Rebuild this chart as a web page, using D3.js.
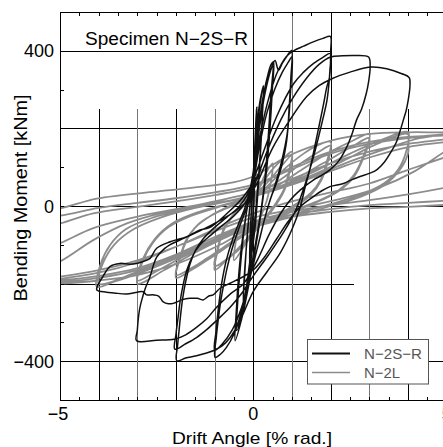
<!DOCTYPE html>
<html>
<head>
<meta charset="utf-8">
<script src="https://d3js.org/d3.v7.min.js"></script>
<style>
  body { margin: 0; background: #fff; }
  svg { display: block; }
</style>
</head>
<body>
<svg id="chart" width="443" height="447"></svg>
<script>
// ---- data ([drift % rad., moment kNm]) ------------------------------------
const driftDomain = [-5, 5];
const momentDomain = [-500, 500];
const xLabels = [-5, 0, 5];
const yLabels = [400, 0, -400];
const seriesNames = ['N\u22122S\u2212R', 'N\u22122L'];
const specimenTitle = 'Specimen N\u22122S\u2212R';

// reference lines: [moment, drift from, drift to]
const hGridLines = [[400, -5, 2], [200, -5, 5], [0, -5, 5],
  [-200, -5, 2.6], [-400, -5, 5]];
// reference lines: [drift, moment from, moment to]
const vGridLines = [[-4, -500, 250], [-3, -500, 250], [-2, -500, 250],
  [-1, -500, 250], [0, -500, 500], [1, -500, 500], [2, -500, 500],
  [3, -500, 250], [4, -500, 250]];

// specimen N-2S-R, whole loading history
const n2srCurve = [
  [0, 0], [0.03, 100], [0.06, 190], [0.09, 255], [0.07, 180], [0.04, 80],
  [0, -20], [-0.05, -90], [-0.1, -150], [-0.08, -80], [-0.05, -10],
  [-0.01, 60], [0.04, 160], [0.08, 250], [0.06, 170], [0.03, 80],
  [-0.01, -20], [-0.06, -100], [-0.1, -145], [-0.08, -70], [-0.04, 10],
  [0, 80], [0.06, 170], [0.14, 250], [0.2, 285], [0.26, 310], [0.23, 230],
  [0.18, 130], [0.12, 40], [0.05, -50], [-0.05, -130], [-0.15, -200],
  [-0.26, -250], [-0.22, -170], [-0.17, -90], [-0.1, -10], [-0.02, 70],
  [0.08, 170], [0.17, 260], [0.26, 305], [0.22, 210], [0.16, 110],
  [0.09, 20], [0, -70], [-0.1, -150], [-0.2, -220], [-0.26, -245],
  [-0.22, -160], [-0.15, -70], [-0.08, 10],
  [0.02, 90], [0.12, 190], [0.25, 280], [0.38, 340], [0.46, 365],
  [0.52, 372], [0.49, 300], [0.43, 200], [0.35, 100], [0.25, 20],
  [0.12, -70], [-0.02, -150], [-0.15, -220], [-0.3, -290], [-0.47, -347],
  [-0.44, -270], [-0.38, -180], [-0.3, -100], [-0.2, -30], [-0.08, 40],
  [0.05, 120], [0.2, 230], [0.35, 320], [0.5, 360],
  [0.45, 280], [0.38, 170], [0.3, 70], [0.2, -10], [0.05, -100],
  [-0.1, -180], [-0.25, -260], [-0.43, -321], [-0.4, -240], [-0.33, -150],
  [-0.25, -70], [-0.14, 10], [0, 90], [0.15, 200], [0.3, 290], [0.45, 350],
  [0.56, 375], [0.65, 350], [0.75, 368], [0.88, 388], [0.99, 401],
  [0.97, 330], [0.93, 260], [0.88, 190], [0.78, 136], [0.68, 95],
  [0.6, 67], [0.5, 35], [0.43, 15], [0.3, -30], [0.15, -90], [0, -150],
  [-0.15, -210], [-0.3, -270], [-0.5, -330], [-0.7, -365], [-0.85, -382],
  [-0.99, -390],
  [-0.96, -340], [-0.91, -295], [-0.85, -250], [-0.78, -210], [-0.68, -160],
  [-0.55, -110], [-0.4, -65], [-0.25, -25], [-0.12, 10], [0, 60],
  [0.15, 150], [0.35, 240], [0.55, 300], [0.75, 345], [0.9, 370], [1, 385],
  [0.97, 310], [0.92, 230], [0.85, 160], [0.75, 110], [0.6, 60], [0.45, 20],
  [0.3, -30], [0.1, -110], [-0.1, -190], [-0.3, -260], [-0.55, -320],
  [-0.8, -355], [-1, -372],
  [-0.96, -320], [-0.9, -260], [-0.82, -200], [-0.7, -140], [-0.55, -90],
  [-0.38, -45], [-0.2, 0], [-0.05, 60], [0.15, 170], [0.35, 260],
  [0.6, 340], [0.85, 385], [1.04, 400], [1.3, 412], [1.55, 423],
  [1.8, 432], [1.99, 437],
  [2, 400], [1.97, 332], [1.9, 307], [1.82, 265], [1.73, 221], [1.64, 178],
  [1.55, 135], [1.45, 90], [1.34, 49], [1.21, -3], [1, -60], [0.7, -120],
  [0.35, -170], [0, -220], [-0.34, -295], [-0.6, -339], [-0.8, -360],
  [-1.04, -373], [-1.47, -386], [-1.75, -392], [-1.98, -399],
  [-1.96, -360], [-1.93, -330], [-1.88, -280], [-1.83, -240], [-1.75, -195],
  [-1.64, -150], [-1.5, -115], [-1.3, -85], [-1, -55], [-0.7, -30],
  [-0.4, -5], [-0.15, 30], [0.05, 80], [0.3, 150], [0.6, 230], [1.04, 315],
  [1.3, 345], [1.55, 367], [1.8, 383], [1.99, 393],
  [1.98, 350], [1.95, 310], [1.9, 270], [1.8, 225], [1.68, 175],
  [1.55, 125], [1.4, 75], [1.25, 30], [1.1, -10], [0.8, -65], [0.4, -125],
  [0, -180], [-0.3, -225], [-0.6, -261], [-0.95, -295], [-1.2, -318],
  [-1.47, -339], [-1.75, -355], [-2.03, -369],
  [-2, -330], [-1.95, -290], [-1.9, -250], [-1.82, -205], [-1.72, -165],
  [-1.55, -125], [-1.38, -100], [-1.1, -75], [-0.8, -50], [-0.5, -25],
  [-0.2, 10], [0.05, 60], [0.35, 140], [0.7, 220], [1, 275], [1.38, 330],
  [1.7, 365], [2, 384], [2.3, 387], [2.6, 388], [2.98, 384],
  [3.02, 358], [2.98, 320], [2.92, 290], [2.8, 250], [2.67, 222],
  [2.55, 185], [2.42, 153], [2.2, 115], [1.98, 93], [1.75, 78], [1.55, 67],
  [1.21, 41], [0.95, 15], [0.7, -20], [0.4, -75], [0.1, -140],
  [-0.26, -201], [-0.6, -227], [-0.95, -261], [-1.2, -290], [-1.47, -313],
  [-1.75, -332], [-2.03, -343], [-2.5, -346], [-3.02, -347],
  [-3, -320], [-2.98, -295], [-2.94, -265], [-2.89, -244], [-2.8, -214],
  [-2.68, -184], [-2.5, -132], [-2.3, -110], [-2.16, -100], [-1.9, -88],
  [-1.55, -72], [-1.2, -55], [-0.86, -37], [-0.5, -15], [-0.2, 10],
  [0.1, 60], [0.5, 150], [0.9, 215], [1.38, 282], [1.7, 310], [2.03, 328],
  [2.5, 345], [3.02, 358], [3.45, 354], [3.84, 341], [4.03, 331],
  [4.05, 310], [4, 270], [3.95, 245], [3.88, 222], [3.8, 195], [3.7, 165],
  [3.54, 136], [3.38, 112], [3.19, 93], [3, 84], [2.76, 76], [2.55, 68],
  [2.33, 58], [1.98, 50], [1.75, 38], [1.55, 24], [1.21, -2], [0.9, -40],
  [0.6, -85], [0.3, -130], [0, -165], [-0.26, -182], [-0.6, -199],
  [-0.86, -212], [-1.04, -229], [-1.15, -232], [-1.3, -242], [-1.45, -238],
  [-1.64, -238], [-1.85, -242], [-2.07, -251], [-2.2, -252], [-2.33, -247],
  [-2.45, -232], [-2.6, -229], [-2.76, -229], [-2.85, -221], [-3, -222],
  [-3.28, -227], [-3.6, -224], [-3.8, -222], [-4.05, -216],
  [-4, -200], [-3.88, -180], [-3.71, -156], [-3.45, -148], [-3.2, -150],
  [-3.02, -148], [-2.8, -141], [-2.67, -135], [-2.5, -109], [-2.15, -92],
  [-1.72, -79], [-1.38, -62], [-1.12, -55], [-0.69, -20], [-0.34, 14],
  [0, 60], [0.2, 95],
];

// specimen N-2L, whole loading history (large cycles run past the frame)
const n2lCurve = [
  [0, 0], [0.15, 45], [0.3, 80], [0.5, 110], [0.45, 60], [0.35, 15],
  [0.2, -25], [0, -65], [-0.25, -105], [-0.5, -140], [-0.45, -90],
  [-0.35, -45], [-0.2, -10], [0, 25], [0.2, 55], [0.5, 95], [0.75, 120],
  [1, 140],
  [0.92, 90], [0.8, 45], [0.6, 10], [0.3, -30], [0, -65], [-0.4, -110],
  [-0.7, -140], [-1, -165], [-0.92, -115], [-0.8, -70], [-0.6, -35],
  [-0.3, -5], [0, 25], [0.4, 65], [0.7, 100], [1, 130],
  [0.92, 80], [0.8, 40], [0.6, 5], [0.3, -35], [0, -70], [-0.4, -115],
  [-0.7, -138], [-1, -155], [-0.9, -100], [-0.75, -55], [-0.5, -20],
  [-0.2, 8], [0.3, 45], [0.8, 95], [1.3, 135], [1.7, 158], [2, 165],
  [1.9, 115], [1.75, 70], [1.5, 35], [1.1, 5], [0.6, -25], [0, -60],
  [-0.6, -100], [-1.2, -140], [-1.6, -165], [-2, -185],
  [-1.9, -135], [-1.75, -90], [-1.5, -55], [-1.1, -25], [-0.5, 5],
  [0.2, 35], [0.8, 75], [1.3, 115], [1.7, 140], [2, 155],
  [1.9, 105], [1.75, 65], [1.5, 30], [1.1, 0], [0.5, -30], [0, -55],
  [-0.6, -95], [-1.2, -135], [-1.6, -160], [-2, -178],
  [-1.85, -120], [-1.65, -75], [-1.4, -45], [-0.9, -15], [-0.3, 10],
  [0.5, 45], [1.2, 90], [1.9, 135], [2.5, 165], [3, 185],
  [2.85, 130], [2.6, 80], [2.2, 40], [1.6, 10], [0.8, -20], [0, -50],
  [-0.8, -85], [-1.6, -125], [-2.3, -165], [-3, -200],
  [-2.85, -140], [-2.6, -95], [-2.2, -55], [-1.6, -25], [-0.8, 0], [0, 25],
  [0.9, 60], [1.8, 110], [2.5, 150], [3, 175],
  [2.85, 125], [2.6, 75], [2.2, 38], [1.6, 8], [0.8, -22], [0, -48],
  [-0.9, -88], [-1.8, -130], [-2.5, -168], [-3, -192],
  [-2.85, -135], [-2.55, -85], [-2.1, -45], [-1.4, -15], [-0.5, 10],
  [0.5, 40], [1.5, 85], [2.5, 135], [3.3, 170], [4, 191],
  [4.01, 165], [4, 136], [3.8, 95], [3.4, 55], [2.8, 25], [2, 0],
  [1, -28], [0, -55], [-1, -90], [-2, -135], [-3, -175], [-3.6, -195],
  [-4.05, -208],
  [-3.95, -150], [-3.7, -100], [-3.3, -60], [-2.6, -30], [-1.8, -10],
  [-0.8, 10], [0.3, 35], [1.3, 70], [2.3, 115], [3.2, 160], [4, 185],
  [3.95, 140], [3.75, 95], [3.4, 60], [2.8, 30], [2, 5], [1, -22], [0, -50],
  [-1, -88], [-2, -130], [-3, -170], [-4, -200],
  [-3.9, -150], [-3.6, -100], [-3.1, -60], [-2.4, -30], [-1.5, -5],
  [-0.5, 15], [0.5, 40], [1.5, 75], [2.5, 115], [3.5, 150], [4.3, 175],
  [5, 185], [5.5, 192], [6, 195],
  [5.7, 175], [5.3, 158], [5, 143], [4.14, 88], [3.27, 48], [2.41, 22],
  [1.3, -3], [0, -30], [-1, -65], [-2, -105], [-3, -140], [-4, -165],
  [-5, -182], [-6, -195], [-6.3, -198],
  [-6.1, -180], [-5.6, -165], [-5, -143], [-4.14, -88], [-3.27, -45],
  [-2.41, -19], [-1.3, 3], [0, 25], [1, 55], [2, 90], [3, 125], [4, 152],
  [5, 165], [6, 180], [6.5, 190],
  [6.3, 170], [5.6, 145], [5, 127], [4, 93], [3, 58], [2, 35], [1, 12],
  [0, -19], [-1, -60], [-2, -105], [-3, -145], [-4, -172], [-5, -188],
  [-6, -198], [-6.6, -200],
  [-6.4, -170], [-5.8, -125], [-5, -96], [-4.14, -57], [-3.02, -28],
  [-2, -8], [-1, 12], [0, 35], [1, 70], [2, 110], [3, 140], [4, 160],
  [5, 172], [6, 185], [7, 195],
  [6.8, 120], [6.3, 75], [5, 48], [4, 30], [3, 15], [2, 2], [1, -15],
  [0, -40], [-1, -80], [-2, -125], [-3, -160], [-4, -180], [-5, -192],
  [-6, -198], [-7, -202],
  [-6.8, -120], [-6.2, -70], [-5, -45], [-4.14, -19], [-3, -2], [-2, 12],
  [-1, 28], [0, 50], [1, 100], [2, 140], [3, 165], [4, 178], [5, 182],
  [6, 190], [7.5, 198],
  [7.3, 100], [6.8, 35], [6, 20], [5, 14], [4, 8], [3, 2], [2, -8],
  [1, -22], [0, -45], [-1, -85], [-2, -130], [-3, -165], [-4, -185],
  [-5, -196], [-6, -200], [-7.5, -205],
  [-7.3, -100], [-6.8, -30], [-6, -15], [-5, -6], [-4.05, 19], [-2.24, 40],
  [-0.52, 61], [0, 76], [0.86, 127], [2.03, 169], [3.02, 186], [4.02, 190],
  [5, 190], [6, 194], [8, 198],
  [7.8, 100], [7.2, 25], [6, 8], [5, 3], [4, -2], [3, -6], [2, -15],
  [1, -28], [0, -53], [-0.86, -100], [-2, -150], [-3, -178], [-4, -192],
  [-5, -200], [-6, -203], [-8, -205],
  [-7.8, -110], [-7.2, -50], [-6, -35], [-5, -25], [-4, -5], [-3, 8],
  [-2, 20], [-1, 35], [0, 55], [1, 95], [2, 135], [3, 160], [4, 175],
  [5, 185], [6, 190],
];

/**
 * Draw the moment - drift hysteresis chart.
 * @param {*} elem The svg element that houses the chart
 */
function createViz(elem) {
  const svg = d3.select(elem);
  const font = '\'Liberation Sans\', Arial, Helvetica, sans-serif';

  // plot frame runs a little past the right edge of the picture
  const left = 60;
  const right = 446.7;
  const top = 12;
  const bottom = 400;

  const x = d3.scaleLinear().domain(driftDomain).range([left, right]);
  const y = d3.scaleLinear().domain(momentDomain).range([bottom, top]);
  const crisp = (v) => Math.round(v) + 0.5;

  svg.append('rect')
      .attr('width', 443)
      .attr('height', 447)
      .attr('fill', '#fff');

  svg.append('clipPath')
      .attr('id', 'plot-clip')
      .append('rect')
      .attr('x', left)
      .attr('y', top)
      .attr('width', right - left)
      .attr('height', bottom - top);

  // reference lines --------
  const grid = svg.append('g')
      .attr('stroke-width', 1)
      .attr('shape-rendering', 'crispEdges');
  grid.selectAll('line.h')
      .data(hGridLines)
      .join('line')
      .attr('class', 'h')
      .attr('x1', (d) => x(d[1]))
      .attr('x2', (d) => x(d[2]))
      .attr('y1', (d) => crisp(y(d[0])))
      .attr('y2', (d) => crisp(y(d[0])))
      .attr('stroke', '#000');
  grid.selectAll('line.v')
      .data(vGridLines)
      .join('line')
      .attr('class', 'v')
      .attr('x1', (d) => crisp(x(d[0])))
      .attr('x2', (d) => crisp(x(d[0])))
      .attr('y1', (d) => y(d[1]))
      .attr('y2', (d) => y(d[2]))
      // the even drift lines are black, the others grey
      .attr('stroke', (d) => d[0] % 2 === 0 ? '#000' : '#777');

  // curves --------
  const line = d3.line()
      .x((d) => x(d[0]))
      .y((d) => y(d[1]))
      .curve(d3.curveCatmullRom.alpha(0.5));

  const curves = svg.append('g')
      .attr('clip-path', 'url(#plot-clip)')
      .attr('fill', 'none')
      .attr('stroke-linejoin', 'round');
  curves.append('path')
      .attr('d', line(n2lCurve))
      .attr('stroke', '#8c8c8c')
      .attr('stroke-width', 1.8);
  curves.append('path')
      .attr('d', line(n2srCurve))
      .attr('stroke', '#111')
      .attr('stroke-width', 1.5);

  // frame and ticks --------
  svg.append('rect')
      .attr('x', left + 0.5)
      .attr('y', top + 0.5)
      .attr('width', right - left)
      .attr('height', bottom - top)
      .attr('fill', 'none')
      .attr('stroke', '#000')
      .attr('stroke-width', 1);

  const ticks = svg.append('g')
      .attr('stroke', '#000')
      .attr('stroke-width', 1)
      .attr('shape-rendering', 'crispEdges');
  const xTicks = d3.range(driftDomain[0], driftDomain[1] + 0.01, 0.5);
  const yTicks = d3.range(momentDomain[0], momentDomain[1] + 1, 100);
  ticks.selectAll('line.xt')
      .data(xTicks)
      .join('line')
      .attr('class', 'xt')
      .attr('x1', (d) => crisp(x(d)))
      .attr('x2', (d) => crisp(x(d)))
      .attr('y1', top)
      .attr('y2', top + 4);
  ticks.selectAll('line.xb')
      .data(xTicks)
      .join('line')
      .attr('class', 'xb')
      .attr('x1', (d) => crisp(x(d)))
      .attr('x2', (d) => crisp(x(d)))
      .attr('y1', bottom)
      .attr('y2', bottom - 3);
  ticks.selectAll('line.yl')
      .data(yTicks)
      .join('line')
      .attr('class', 'yl')
      .attr('x1', left)
      .attr('x2', left + 4)
      .attr('y1', (d) => crisp(y(d)))
      .attr('y2', (d) => crisp(y(d)));
  ticks.selectAll('line.yr')
      .data(yTicks)
      .join('line')
      .attr('class', 'yr')
      .attr('x1', right)
      .attr('x2', right - 4)
      .attr('y1', (d) => crisp(y(d)))
      .attr('y2', (d) => crisp(y(d)));

  const fmt = (v) => String(v).replace('-', '\u2212');

  svg.append('g')
      .attr('font-family', font)
      .attr('font-size', 18)
      .attr('fill', '#000')
      .attr('text-anchor', 'end')
      .selectAll('text')
      .data(yLabels)
      .join('text')
      .attr('x', 54)
      .attr('y', (d) => y(d) + 6.5)
      .text(fmt);

  svg.append('g')
      .attr('font-family', font)
      .attr('font-size', 18)
      .attr('fill', '#000')
      .attr('text-anchor', 'middle')
      .selectAll('text')
      .data(xLabels)
      .join('text')
      .attr('x', (d) => x(d) - (d < 0 ? 2 : 0))
      .attr('y', 420)
      .text(fmt);

  // titles --------
  svg.append('text')
      .attr('x', 252)
      .attr('y', 444)
      .attr('font-family', font)
      .attr('font-size', 17)
      .attr('text-anchor', 'middle')
      .attr('textLength', 160)
      .attr('lengthAdjust', 'spacingAndGlyphs')
      .text('Drift Angle [% rad.]');

  svg.append('text')
      .attr('transform', 'translate(27,198) rotate(-90)')
      .attr('font-family', font)
      .attr('font-size', 18)
      .attr('text-anchor', 'middle')
      .attr('textLength', 207)
      .attr('lengthAdjust', 'spacingAndGlyphs')
      .text('Bending Moment [kNm]');

  svg.append('text')
      .attr('x', 85)
      .attr('y', 45)
      .attr('font-family', font)
      .attr('font-size', 17.5)
      .attr('textLength', 163)
      .attr('lengthAdjust', 'spacingAndGlyphs')
      .text(specimenTitle);

  // legend --------
  const legend = svg.append('g')
      .attr('transform', 'translate(307,339)');
  legend.append('rect')
      .attr('x', 0.5)
      .attr('y', 0.5)
      .attr('width', 121)
      .attr('height', 44.5)
      .attr('fill', '#fff')
      .attr('stroke', '#555')
      .attr('stroke-width', 1);
  const swatch = ['#111', '#8c8c8c'];
  const row = legend.selectAll('g')
      .data(seriesNames)
      .join('g')
      .attr('transform', (d, i) => `translate(0,${14.5 + i * 19})`);
  row.append('line')
      .attr('x1', 5)
      .attr('x2', 43)
      .attr('stroke', (d, i) => swatch[i])
      .attr('stroke-width', (d, i) => i === 0 ? 2 : 1.6);
  row.append('text')
      .attr('x', 57)
      .attr('y', 5.5)
      .attr('font-family', font)
      .attr('font-size', 15)
      .attr('fill', '#555')
      .attr('textLength', (d, i) => i === 0 ? 58 : 36)
      .attr('lengthAdjust', 'spacingAndGlyphs')
      .text((d) => d);
}

createViz(document.getElementById('chart'));
</script>
</body>
</html>
